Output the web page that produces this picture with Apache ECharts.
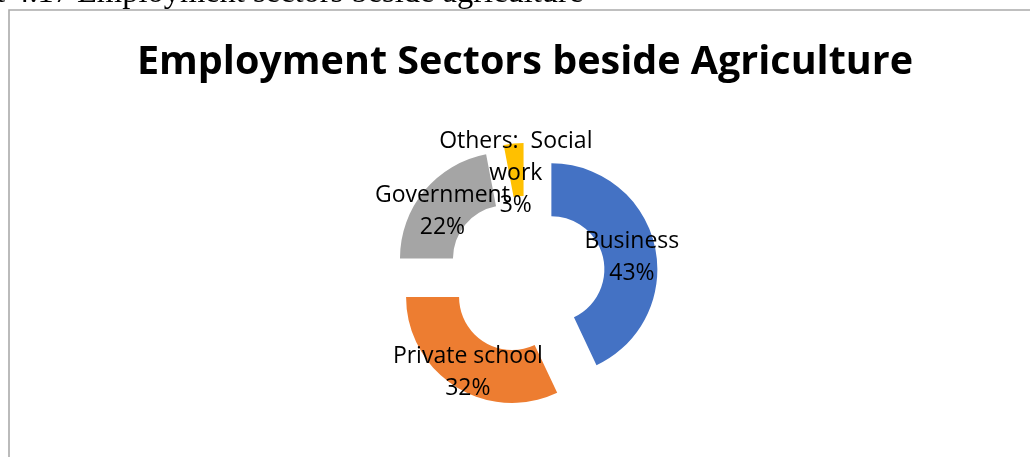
<!DOCTYPE html>
<html>
<head>
<meta charset="utf-8">
<script src="https://cdn.jsdelivr.net/npm/echarts@6/dist/echarts.min.js"></script>
<style>
  html, body { margin: 0; padding: 0; background: #ffffff; }
  #chart { width: 1030px; height: 457px; }
</style>
</head>
<body>
<div id="chart"></div>
<script>
// Employment sectors (besides agriculture), share of respondents in percent
const categories = ['Business', 'Private school', 'Government', 'Others:  Social\nwork'];
const shares = [43, 32, 22, 3];
const sliceColors = ['#4472C4', '#ED7D31', '#A5A5A5', '#FFC000'];

const chart = echarts.init(document.getElementById('chart'), null, { renderer: 'canvas' });

const pieData = categories.map((name, i) => ({
  name: name,
  value: shares[i],
  selected: true,
  itemStyle: { color: sliceColors[i] }
}));

chart.setOption({
  animation: false,
  backgroundColor: '#ffffff',
  graphic: [
    {
      type: 'rect',
      silent: true,
      shape: { x: 9, y: 10, width: 1200, height: 700 },
      style: { fill: 'none', stroke: '#ababab', lineWidth: 1.6 }
    },
    {
      type: 'text',
      silent: true,
      x: 77,
      y: -6.5,
      style: {
        text: 'Employment sectors beside agriculture',
        font: '32.5px "Liberation Serif"',
        fill: '#000000',
        align: 'left',
        verticalAlign: 'middle'
      }
    },
    {
      type: 'text',
      silent: true,
      x: 70,
      y: -6.5,
      style: {
        text: 'Chart 4.17',
        font: '32.5px "Liberation Serif"',
        fill: '#000000',
        align: 'right',
        verticalAlign: 'middle'
      }
    },
    {
      type: 'text',
      silent: true,
      x: 525,
      y: 63,
      style: {
        text: 'Employment Sectors beside Agriculture',
        font: 'bold 39.5px "Open Sans"',
        fill: '#000000',
        align: 'center',
        verticalAlign: 'middle'
      }
    }
  ],
  series: [
    {
      type: 'pie',
      center: [526, 275],
      radius: [53, 106],
      startAngle: 90,
      clockwise: true,
      selectedMode: 'multiple',
      selectedOffset: 26,
      avoidLabelOverlap: false,
      emphasis: { disabled: true },
      itemStyle: { borderWidth: 0 },
      label: {
        show: true,
        position: 'inside',
        formatter: '{b}\n{c}%',
        color: '#000000',
        fontFamily: 'Open Sans',
        fontSize: 23,
        lineHeight: 32,
        align: 'center'
      },
      labelLine: { show: false },
      labelLayout: { hideOverlap: false, dy: 6 },
      data: pieData
    }
  ]
});
</script>
</body>
</html>
